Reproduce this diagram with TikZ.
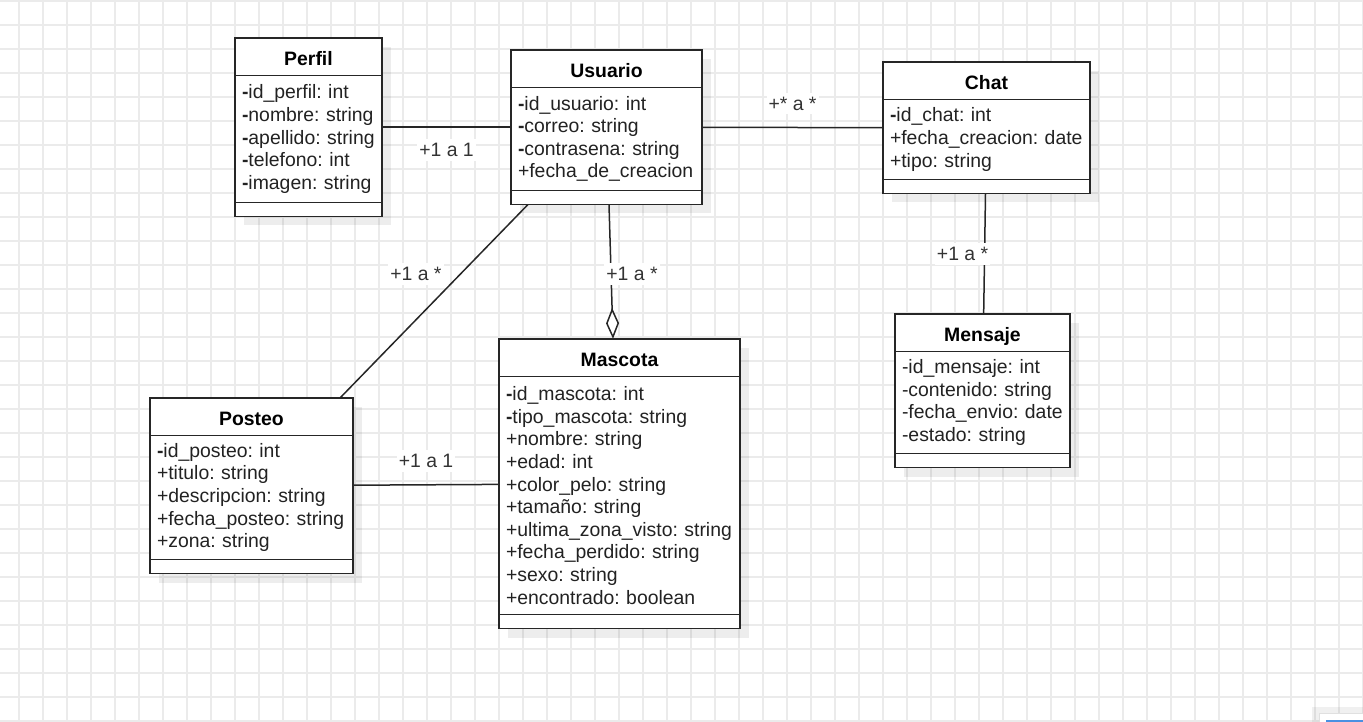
\documentclass[tikz,border=0pt]{standalone}
\usepackage{fontspec}
\setmainfont{Liberation Sans}
\usetikzlibrary{positioning, fit, shadows, arrows.meta}
\frenchspacing

\definecolor{gridgray}{HTML}{EBEBEB}
\definecolor{linegray}{HTML}{262626}
\definecolor{textgray}{HTML}{222222}
\definecolor{lblgray}{HTML}{333333}
\definecolor{uiblue}{HTML}{4A90E2}

\begin{document}
\begin{tikzpicture}[x=1pt, y=-1pt, font=\fontsize{19.4}{22.6}\selectfont,
   gridline/.style={draw=gridgray, line width=1.6pt},
   boxpart/.style={draw=linegray, line width=1.5pt, fill=white, anchor=north west,
      inner sep=0pt, outer sep=0pt,
      drop shadow={shadow xshift=9pt, shadow yshift=-9pt, fill=black, opacity=0.07}},
   head/.style={boxpart, minimum height=37.5pt, text height=17pt, text depth=0pt,
      font=\fontsize{19.4}{22.6}\selectfont\bfseries},
   attrs/.style={boxpart, align=left, inner xsep=7pt, text=textgray},
   foot/.style={boxpart, minimum height=14pt},
   assoc/.style={draw=linegray, line width=1.5pt},
   lbl/.style={fill=white, text=lblgray, inner xsep=2pt, inner ysep=4pt}]

   \useasboundingbox (0,0) rectangle (1363,722);

   % Background grid
   \foreach \gx in {19,43,...,1363} \draw[gridline] (\gx,-2) -- (\gx,724);
   \foreach \gy in {1,25,...,722} \draw[gridline] (-2,\gy) -- (1365,\gy);

   % Perfil
   \node[head, minimum width=147pt] (perfil) at (235,38) {Perfil};
   \node[attrs, text width=133pt, minimum height=127pt] (perfilA) [below=0pt of perfil]
      {\textbf{-}id\_perfil: int\\\textbf{-}nombre: string\\\textbf{-}apellido: string\\\textbf{-}telefono: int\\\textbf{-}imagen: string};
   \node[foot, minimum width=147pt] (perfilF) [below=0pt of perfilA] {};
   \node[fit=(perfil)(perfilF), inner sep=0pt] (Perfil) {};

   % Usuario
   \node[head, minimum width=191pt] (usuario) at (511,50) {Usuario};
   \node[attrs, text width=177pt, minimum height=103pt] (usuarioA) [below=0pt of usuario]
      {\textbf{-}id\_usuario: int\\\textbf{-}correo: string\\\textbf{-}contrasena: string\\+fecha\_de\_creacion};
   \node[foot, minimum width=191pt] (usuarioF) [below=0pt of usuarioA] {};
   \node[fit=(usuario)(usuarioF), inner sep=0pt] (Usuario) {};

   % Chat
   \node[head, minimum width=207pt] (chat) at (883,62) {Chat};
   \node[attrs, text width=193pt, minimum height=80pt] (chatA) [below=0pt of chat]
      {\textbf{-}id\_chat: int\\+fecha\_creacion: date\\+tipo: string};
   \node[foot, minimum width=207pt] (chatF) [below=0pt of chatA] {};
   \node[fit=(chat)(chatF), inner sep=0pt] (Chat) {};

   % Mensaje
   \node[head, minimum width=175pt] (mensaje) at (895,314) {Mensaje};
   \node[attrs, text width=161pt, minimum height=102pt] (mensajeA) [below=0pt of mensaje]
      {-id\_mensaje: int\\-contenido: string\\-fecha\_envio: date\\-estado: string};
   \node[foot, minimum width=175pt] (mensajeF) [below=0pt of mensajeA] {};
   \node[fit=(mensaje)(mensajeF), inner sep=0pt] (Mensaje) {};

   % Posteo
   \node[head, minimum width=203pt] (posteo) at (150,398) {Posteo};
   \node[attrs, text width=189pt, minimum height=124pt] (posteoA) [below=0pt of posteo]
      {\textbf{-}id\_posteo: int\\+titulo: string\\+descripcion: string\\+fecha\_posteo: string\\+zona: string};
   \node[foot, minimum width=203pt] (posteoF) [below=0pt of posteoA] {};
   \node[fit=(posteo)(posteoF), inner sep=0pt] (Posteo) {};

   % Mascota
   \node[head, minimum width=241pt] (mascota) at (499,339) {Mascota};
   \node[attrs, text width=227pt, minimum height=238pt] (mascotaA) [below=0pt of mascota]
      {\textbf{-}id\_mascota: int\\\textbf{-}tipo\_mascota: string\\+nombre: string\\+edad: int\\+color\_pelo: string\\+tamaño: string\\+ultima\_zona\_visto: string\\+fecha\_perdido: string\\+sexo: string\\+encontrado: boolean};
   \node[foot, minimum width=241pt] (mascotaF) [below=0pt of mascotaA] {};
   \node[fit=(mascota)(mascotaF), inner sep=0pt] (Mascota) {};

   % Associations
   \draw[assoc] (Perfil) -- node[lbl, below=11.5pt] {+1 a 1} (Usuario);
   \draw[assoc] (Usuario) -- node[lbl, above=12.5pt] {+* a *} (Chat);
   \draw[assoc] (Chat) -- node[lbl, xshift=-22pt] {+1 a *} (Mensaje);
   \draw[assoc, -{Diamond[open, length=31pt, width=13pt]}]
      ([xshift=2.5pt]Usuario.south) -- node[lbl, xshift=21pt, yshift=-2pt] {+1 a *} ([xshift=-6.5pt]Mascota.north);
   \draw[assoc] ([xshift=17pt]Usuario.south west) -- node[lbl, pos=0.36, left=16pt] {+1 a *} ([xshift=-13pt]Posteo.north east);
   \draw[assoc] (Posteo) -- node[lbl, above=12.5pt] {+1 a 1} (Mascota);

   % Corner widget
   \fill[black, opacity=0.06] (1312,707) rectangle (1365,724);
   \filldraw[fill=white, draw=black!12, line width=0.8pt] (1319,713) rectangle (1366,725);
   \draw[uiblue, line width=2pt] (1326,721) -- (1365,721);

\end{tikzpicture}
\end{document}
